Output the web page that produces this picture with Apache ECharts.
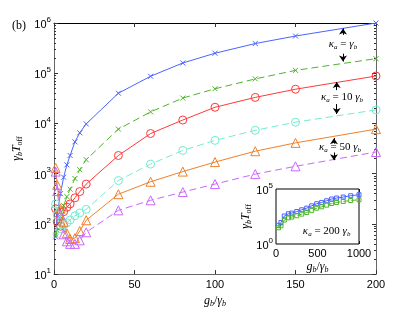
<!DOCTYPE html>
<html>
<head>
<meta charset="utf-8">
<script src="https://cdn.jsdelivr.net/npm/echarts@6/dist/echarts.min.js"></script>
<style>
html,body{margin:0;padding:0;background:#fff;}
#chart{width:415px;height:313px;}
</style>
</head>
<body>
<div id="chart"></div>
<script>
// ---- main panel data (x = g_b / gamma_b) ----
const gValues       = [1, 2, 4, 6, 8, 10, 13, 16, 20, 40, 60, 80, 100, 125, 150, 200];
const kappa1Solid   = [55, 150, 400, 850, 1500, 2300, 4300, 6500, 9800, 40000, 87000, 160000, 250000, 390000, 550000, 1000000];
const kappa1Dashed  = [60, 75, 140, 230, 350, 490, 800, 1200, 1900, 7700, 17000, 32000, 49000, 77000, 114000, 195000];
const kappa10Solid  = [200, 110, 90, 175, 215, 250, 330, 440, 620, 2300, 6300, 11700, 21000, 33000, 48000, 88000];
const kappa10Dashed = [250, 150, 80, 95, 105, 120, 145, 165, 195, 730, 1550, 2900, 4600, 7300, 10600, 18600];
const kappa50Solid  = [1300, 600, 200, 110, 65, 50, 52, 72, 118, 390, 690, 1100, 1700, 2800, 4100, 7700];
const kappa50Dashed = [1100, 450, 150, 62, 45, 40, 40, 47, 68, 186, 295, 430, 620, 980, 1400, 2700];

// ---- inset data (kappa_a = 200 gamma_b) ----
const insetG      = [30, 60, 100, 150, 190, 250, 310, 370, 430, 490, 550, 610, 670, 730, 810, 900, 1000];
const insetSolid  = [50, 90, 350, 560, 645, 890, 1290, 1820, 2950, 4570, 6030, 8510, 12300, 15100, 18600, 24500, 30200];
const insetDashed = [30, 45, 150, 240, 280, 370, 520, 730, 1150, 1800, 2400, 3400, 4800, 6000, 7400, 9000, 10500];

// ---- ticks ----
const mainXTicks  = [0, 50, 100, 150, 200];
const mainYTicks  = [10, 100, 1000, 10000, 100000, 1000000];
const insetXTicks = [0, 500, 1000];
const insetYTicks = [1, 100000];
const minorMult   = [2, 3, 4, 5, 6, 7, 8, 9];

const mainMinor = [];
mainYTicks.slice(0, -1).forEach(d => minorMult.forEach(m => mainMinor.push(d * m)));

const C = {
  blue: '#4a64ff', green: '#4db52a', red: '#ff3a3a',
  cyan: '#74ecd0', orange: '#f0802c', purple: '#cc66ff'
};

const SANS = 'Liberation Sans, Arial, sans-serif';
const SERIF = 'Liberation Serif, DejaVu Serif, serif';

const expRich = {
  b: {fontFamily: SANS, fontSize: 11, color: '#000', verticalAlign: 'bottom'},
  e: {fontFamily: SANS, fontSize: 8, color: '#000', verticalAlign: 'bottom', padding: [0, 0, 7, 0]}
};
const mathRich = {
  i: {fontFamily: SERIF, fontStyle: 'italic', fontSize: 12, color: '#000', verticalAlign: 'top'},
  n: {fontFamily: SERIF, fontSize: 12, color: '#000', verticalAlign: 'top'},
  s: {fontFamily: SERIF, fontStyle: 'italic', fontSize: 8, color: '#000', verticalAlign: 'top', padding: [5, 0, 0, 0]},
  r: {fontFamily: SERIF, fontSize: 8, color: '#000', verticalAlign: 'top', padding: [5, 0, 0, 0]}
};
const annRich = {
  i: {fontFamily: SERIF, fontStyle: 'italic', fontSize: 11, color: '#000', verticalAlign: 'top'},
  n: {fontFamily: SERIF, fontSize: 11, color: '#000', verticalAlign: 'top'},
  s: {fontFamily: SERIF, fontStyle: 'italic', fontSize: 7, color: '#000', verticalAlign: 'top', padding: [5, 0, 0, 0]}
};

function expLabel(v) {
  return '{b|10}{e|' + Math.round(Math.log10(v)) + '}';
}
function pairs(xs, ys) { return xs.map((x, i) => [x, ys[i]]); }

const XMARK = 'path://M0,0L10,10M10,0L0,10';

function mainSeries(vals, color, symbol, size, dashed) {
  return {
    type: 'line', xAxisIndex: 0, yAxisIndex: 0,
    data: pairs(gValues, vals),
    symbol: symbol, symbolSize: size,
    lineStyle: {color: color, width: 1, type: dashed ? [7, 4] : 'solid'},
    itemStyle: {color: symbol === XMARK ? color : 'rgba(0,0,0,0)', borderColor: color, borderWidth: 1},
    emphasis: {disabled: true}, silent: true, z: 3
  };
}

// annotation arrows and labels (data coordinates)
const arrowSegments = [
  [[179.5, 5.8e5], [179.5, 7.8e5]],
  [[179.5, 2.45e5], [179.5, 1.71e5]],
  [[175.6, 4.6e4], [175.6, 6.7e4]],
  [[175.6, 2.43e4], [175.6, 1.55e4]],
  [[173.9, 3.96e3], [173.9, 5.1e3]],
  [[173.9, 2.64e3], [173.9, 1.86e3]]
];
const labelSpots = [
  {at: [179.5, 3.69e5], text: '{i|κ}{s|a}{n| = }{i|γ}{s|b}'},
  {at: [178.9, 3.24e4], text: '{i|κ}{s|a}{n| = 10 }{i|γ}{s|b}'},
  {at: [177.6, 3.27e3], text: '{i|κ}{s|a}{n| = 50 }{i|γ}{s|b}'}
];

const blueSeries = mainSeries(kappa1Solid, C.blue, XMARK, 5, false);
blueSeries.markLine = {
  silent: true, animation: false,
  symbol: ['none', 'arrow'], symbolSize: 6,
  lineStyle: {color: '#000', width: 1, type: 'solid'},
  label: {show: false},
  emphasis: {disabled: true},
  data: arrowSegments.map(s => [
    {coord: s[0], symbol: 'none', lineStyle: {color: '#000', width: 1, type: 'solid'}},
    {coord: s[1], symbol: 'arrow', symbolSize: 6}
  ])
};
blueSeries.markPoint = {
  symbol: 'circle', symbolSize: 1, itemStyle: {color: 'rgba(0,0,0,0)'}, silent: true, animation: false,
  label: {show: true, position: 'inside', rich: annRich, color: '#000'},
  data: labelSpots.map(p => ({coord: p.at, label: {formatter: p.text}}))
};

const tickStyle = {lineStyle: {color: '#333', width: 1}};

const option = {
  animation: false,
  backgroundColor: '#fff',
  title: {text: '(b)', left: 7, top: 15, textStyle: {fontFamily: SERIF, fontSize: 12, fontWeight: 'normal', color: '#000'}},
  grid: [
    {left: 54, top: 23, width: 322, height: 254, show: false},
    {left: 276, top: 189, width: 83, height: 55, show: true, backgroundColor: '#fff', borderColor: '#000', borderWidth: 1, z: 5}
  ],
  xAxis: [
    {gridIndex: 0, type: 'value', min: 0, max: 200, interval: 50, position: 'bottom',
     axisLine: {lineStyle: {color: '#666', width: 1}},
     axisTick: Object.assign({inside: true, length: 4, customValues: mainXTicks}, tickStyle),
     axisLabel: {fontFamily: SANS, fontSize: 11, color: '#000', margin: 5, customValues: mainXTicks, formatter: v => String(v)},
     splitLine: {show: false},
     name: '{i|g}{s|b}{n|/}{i|γ}{s|b}', nameLocation: 'middle', nameGap: 16,
     nameTextStyle: {rich: mathRich}},
    {gridIndex: 0, type: 'value', min: 0, max: 200, interval: 50, position: 'top',
     axisLine: {lineStyle: {color: '#000', width: 1}},
     axisTick: Object.assign({inside: true, length: 4}, tickStyle),
     axisLabel: {show: false}, splitLine: {show: false}},
    {gridIndex: 1, type: 'value', min: 0, max: 1000, interval: 500, position: 'bottom',
     axisLine: {show: false},
     axisTick: Object.assign({inside: true, length: 3, customValues: insetXTicks}, tickStyle),
     axisLabel: {fontFamily: SANS, fontSize: 11, color: '#000', margin: 4, customValues: insetXTicks, formatter: v => String(v)},
     splitLine: {show: false},
     name: '{i|g}{s|b}{n|/}{i|γ}{s|b}', nameLocation: 'middle', nameGap: 17,
     nameTextStyle: {rich: mathRich}},
    {gridIndex: 1, type: 'value', min: 0, max: 1000, interval: 500, position: 'top',
     axisLine: {show: false},
     axisTick: Object.assign({inside: true, length: 3, customValues: insetXTicks}, tickStyle),
     axisLabel: {show: false}, splitLine: {show: false}}
  ],
  yAxis: [
    {gridIndex: 0, type: 'log', logBase: 10, min: 10, max: 1000000, position: 'left',
     axisLine: {show: true, lineStyle: {color: '#666', width: 1}},
     axisTick: Object.assign({show: true, inside: true, length: 4, customValues: mainYTicks}, tickStyle),
     axisLabel: {formatter: expLabel, rich: expRich, margin: 3, customValues: mainYTicks},
     splitLine: {show: false},
     name: '{i|γ}{s|b}{i|T}{r|off}', nameLocation: 'middle', nameGap: 22,
     nameTextStyle: {rich: mathRich}},
    {gridIndex: 0, type: 'log', logBase: 10, min: 10, max: 1000000, position: 'left',
     axisLine: {show: false},
     axisTick: Object.assign({show: true, inside: true, length: 2, customValues: mainMinor}, tickStyle),
     axisLabel: {show: false}, splitLine: {show: false}},
    {gridIndex: 0, type: 'log', logBase: 10, min: 10, max: 1000000, position: 'right',
     axisLine: {show: true, lineStyle: {color: '#666', width: 1}},
     axisTick: Object.assign({show: true, inside: true, length: 4, customValues: mainYTicks}, tickStyle),
     axisLabel: {show: false}, splitLine: {show: false}},
    {gridIndex: 0, type: 'log', logBase: 10, min: 10, max: 1000000, position: 'right',
     axisLine: {show: false},
     axisTick: Object.assign({show: true, inside: true, length: 2, customValues: mainMinor}, tickStyle),
     axisLabel: {show: false}, splitLine: {show: false}},
    {gridIndex: 1, type: 'log', logBase: 10, min: 1, max: 100000, position: 'left',
     axisLine: {show: false},
     axisTick: {show: false},
     axisLabel: {formatter: expLabel, rich: expRich, margin: 3, customValues: insetYTicks},
     splitLine: {show: false},
     name: '{i|γ}{s|b}{i|T}{r|off}', nameLocation: 'middle', nameGap: 20,
     nameTextStyle: {rich: mathRich}}
  ],
  series: [
    blueSeries,
    mainSeries(kappa1Dashed, C.green, XMARK, 5, true),
    mainSeries(kappa10Solid, C.red, 'circle', 8, false),
    mainSeries(kappa10Dashed, C.cyan, 'circle', 8, true),
    mainSeries(kappa50Solid, C.orange, 'triangle', 9, false),
    mainSeries(kappa50Dashed, C.purple, 'triangle', 9, true),
    {type: 'line', xAxisIndex: 2, yAxisIndex: 4, data: pairs(insetG, insetSolid),
     symbol: 'rect', symbolSize: 4, z: 10,
     lineStyle: {color: C.blue, width: 1},
     itemStyle: {color: 'rgba(0,0,0,0)', borderColor: C.blue, borderWidth: 1}, silent: true},
    {type: 'line', xAxisIndex: 2, yAxisIndex: 4, data: pairs(insetG, insetDashed),
     symbol: 'rect', symbolSize: 4, z: 10,
     lineStyle: {color: C.green, width: 1, type: [5, 3]},
     itemStyle: {color: 'rgba(0,0,0,0)', borderColor: C.green, borderWidth: 1}, silent: true,
     markPoint: {
       symbol: 'circle', symbolSize: 1, itemStyle: {color: 'rgba(0,0,0,0)'}, silent: true, animation: false,
       label: {show: true, position: 'inside', rich: annRich},
       data: [{coord: [610, 13.3], label: {formatter: '{i|κ}{s|a}{n| = 200 }{i|γ}{s|b}'}}]
     }}
  ]
};

const chart = echarts.init(document.getElementById('chart'), null, {renderer: 'canvas'});
chart.setOption(option);
</script>
</body>
</html>
